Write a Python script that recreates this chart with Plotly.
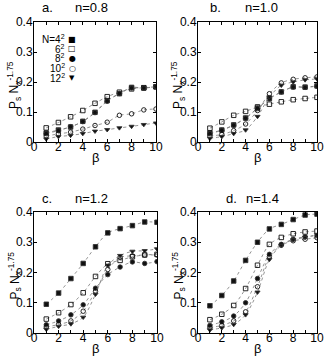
import plotly.graph_objects as go

W, H = 325, 359

beta = [1, 2, 3, 4, 5, 6, 7, 8, 9, 10]
legend_labels = ['N=4<sup>2</sup>', '6<sup>2</sup>', '8<sup>2</sup>', '10<sup>2</sup>', '12<sup>2</sup>']
legend_glyphs = ['■', '□', '●', '○', '▼']

# a. n=0.8
a_n4 = [0.030, 0.040, 0.050, 0.069, 0.099, 0.138, 0.161, 0.182, 0.180, 0.184]
a_n6 = [0.047, 0.065, 0.084, 0.105, 0.129, 0.151, 0.166, 0.177, 0.181, 0.184]
a_n8 = [0.028, 0.038, 0.051, 0.068, 0.098, 0.136, 0.162, 0.180, 0.180, 0.185]
a_n10 = [0.020, 0.027, 0.033, 0.043, 0.055, 0.066, 0.089, 0.094, 0.107, 0.110]
a_n12 = [0.010, 0.018, 0.022, 0.028, 0.036, 0.041, 0.047, 0.052, 0.058, 0.063]

# b. n=1.0
b_n4 = [0.030, 0.040, 0.057, 0.080, 0.113, 0.145, 0.167, 0.184, 0.183, 0.187]
b_n6 = [0.046, 0.067, 0.089, 0.102, 0.117, 0.126, 0.134, 0.141, 0.145, 0.149]
b_n8 = [0.028, 0.039, 0.056, 0.079, 0.112, 0.144, 0.167, 0.183, 0.182, 0.186]
b_n10 = [0.020, 0.025, 0.038, 0.060, 0.105, 0.161, 0.197, 0.209, 0.214, 0.217]
b_n12 = [0.012, 0.018, 0.028, 0.040, 0.085, 0.150, 0.189, 0.200, 0.207, 0.210]

# c. n=1.2
c_n4 = [0.095, 0.132, 0.180, 0.230, 0.285, 0.331, 0.345, 0.355, 0.367, 0.366]
c_n6 = [0.046, 0.067, 0.094, 0.133, 0.187, 0.229, 0.240, 0.252, 0.258, 0.260]
c_n8 = [0.027, 0.040, 0.060, 0.093, 0.148, 0.193, 0.218, 0.235, 0.230, 0.236]
c_n10 = [0.020, 0.028, 0.040, 0.072, 0.138, 0.210, 0.250, 0.255, 0.258, 0.258]
c_n12 = [0.012, 0.022, 0.030, 0.052, 0.128, 0.224, 0.256, 0.270, 0.272, 0.278]

# d. n=1.4
d_n4 = [0.090, 0.124, 0.172, 0.240, 0.300, 0.344, 0.359, 0.375, 0.390, 0.393]
d_n6 = [0.044, 0.062, 0.091, 0.147, 0.224, 0.293, 0.316, 0.328, 0.334, 0.337]
d_n8 = [0.025, 0.037, 0.056, 0.100, 0.180, 0.260, 0.293, 0.310, 0.318, 0.322]
d_n10 = [0.018, 0.025, 0.040, 0.070, 0.153, 0.252, 0.290, 0.305, 0.310, 0.315]
d_n12 = [0.010, 0.017, 0.028, 0.060, 0.135, 0.243, 0.290, 0.308, 0.316, 0.325]

panels = [
    ('a.', 'n=0.8', [a_n4, a_n6, a_n8, a_n10, a_n12]),
    ('b.', 'n=1.0', [b_n4, b_n6, b_n8, b_n10, b_n12]),
    ('c.', 'n=1.2', [c_n4, c_n6, c_n8, c_n10, c_n12]),
    ('d.', 'n=1.4', [d_n4, d_n6, d_n8, d_n10, d_n12]),
]

# plot boxes in pixels: left, right, top, bottom
boxes = [(34, 156, 22, 142), (198, 317, 22, 142), (34, 157, 212, 333), (198, 317, 212, 333)]
letter_x = [47, 215, 47, 231]
nlabel_x = [91, 261, 91, 262]
title_y = [8, 8, 198, 198]

symbols = ['square', 'square-open', 'circle', 'circle-open', 'triangle-down']
msizes = [4.5, 4.5, 4.5, 4.5, 4.5]

FONT = 'Liberation Sans, Arial, sans-serif'


def px(x):
    return x / W


def py(y):
    return 1 - y / H


def label(x, y, text, size, **kw):
    d = dict(x=px(x), y=py(y), xref='paper', yref='paper', text=text, showarrow=False,
             xanchor='center', yanchor='middle',
             font=dict(size=size, color='black', family=FONT))
    d.update(kw)
    return d


fig = go.Figure()
annotations = []

for i, (letter, nlab, series) in enumerate(panels):
    k = '' if i == 0 else str(i + 1)
    l, r, t, b = boxes[i]
    for j, vals in enumerate(series):
        fig.add_trace(go.Scatter(
            x=beta, y=vals, xaxis='x' + k, yaxis='y' + k,
            mode='lines+markers',
            line=dict(color='#777', width=0.8, dash='dot', shape='spline', smoothing=0.8),
            marker=dict(symbol=symbols[j], size=msizes[j], color='#111',
                        line=dict(color='#333', width=0.9)),
            showlegend=False, hoverinfo='skip'
        ))
    fig.layout['xaxis' + k] = dict(
        domain=[px(l), px(r)], anchor='y' + k, range=[0, 10],
        tickvals=[0, 2, 4, 6, 8, 10], ticks='inside', ticklen=3, tickcolor='black',
        minor=dict(dtick=1, ticks='inside', ticklen=3, tickcolor='black'),
        showline=True, linecolor='black', linewidth=1, mirror='allticks',
        showgrid=False, zeroline=False, ticklabelstandoff=-6,
        tickfont=dict(size=12, color='black', family=FONT),
    )
    fig.layout['yaxis' + k] = dict(
        domain=[py(b), py(t)], anchor='x' + k, range=[0, 0.4],
        tickvals=[0, 0.1, 0.2, 0.3, 0.4], ticks='inside', ticklen=3, tickcolor='black',
        showline=True, linecolor='black', linewidth=1, mirror='allticks',
        showgrid=False, zeroline=False, ticklabelstandoff=-2,
        tickfont=dict(size=12, color='black', family=FONT),
    )
    annotations.append(label(letter_x[i], title_y[i], letter, 13))
    annotations.append(label(nlabel_x[i], title_y[i], nlab, 13))
    annotations.append(label(l - 20, (t + b) / 2 + 3, 'P<sub>s</sub> N<sub>x</sub><sup>-1.75</sup>', 12,
                             textangle=-90))
    annotations.append(label((l + r) / 2, b + 15, 'β', 13))

# legend inside panel a
leg_y = [39, 49, 58, 68, 78]
for j in range(5):
    annotations.append(label(67, leg_y[j], legend_labels[j], 10, xanchor='right'))
    annotations.append(label(72, leg_y[j], legend_glyphs[j], 8 if j != 4 else 7,
                             font=dict(size=8 if j != 4 else 7, color='black', family='DejaVu Sans')))

fig.update_layout(
    width=W, height=H, margin=dict(l=0, r=0, t=0, b=0, autoexpand=False),
    paper_bgcolor='white', plot_bgcolor='white',
    annotations=annotations, font=dict(family=FONT, color='black'),
)

fig.write_html('out.html', config={'displayModeBar': False},
               post_script="document.body.style.margin='0px';")
